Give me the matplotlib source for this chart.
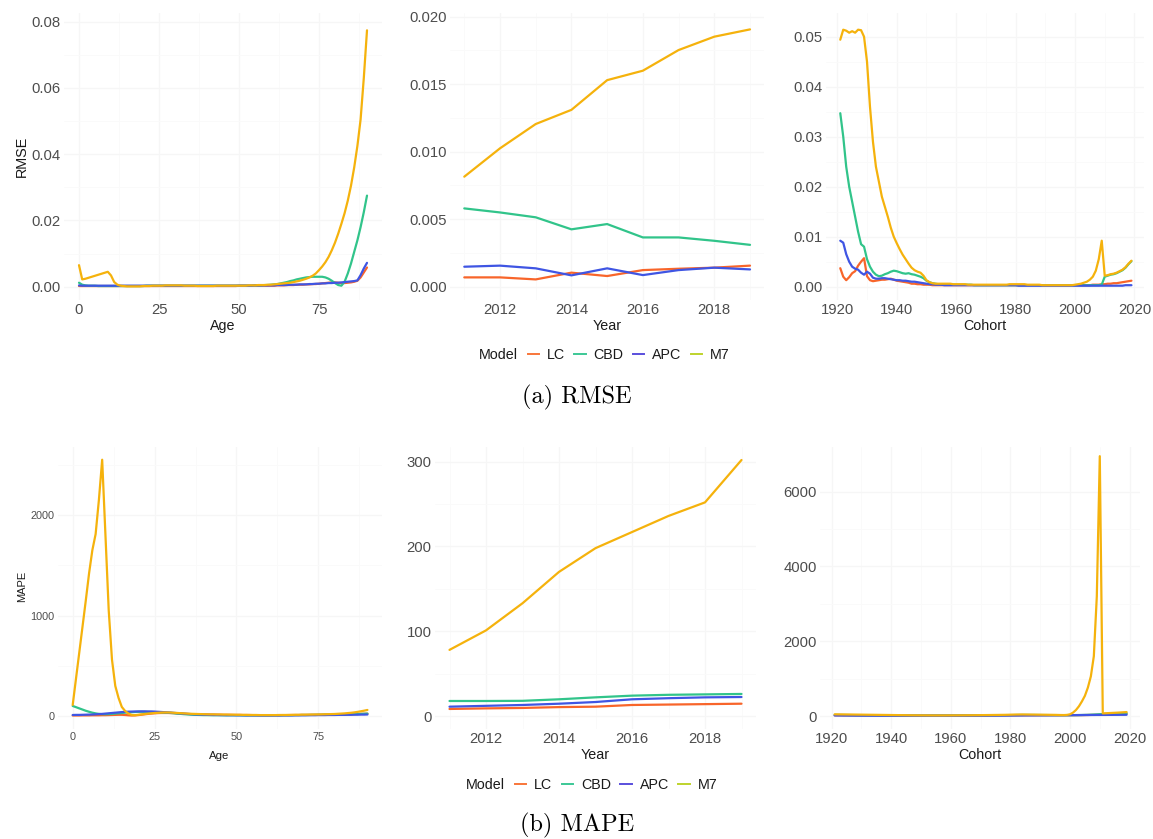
import matplotlib
matplotlib.use("Agg")
import matplotlib.pyplot as plt
from matplotlib.lines import Line2D
from matplotlib.ticker import FixedLocator

# ---------------------------------------------------------------- data
ages = list(range(0, 91))
years = list(range(2011, 2020))
cohorts = list(range(1921, 2020))
models = ["LC", "CBD", "APC", "M7"]

# RMSE by age
rmse_age_lc = [
    0.0002, 0.0002, 0.0002, 0.0002, 0.0002, 0.0002, 0.0002, 0.0002, 0.0002, 0.0002,
    0.0002, 0.0002, 0.0002, 0.0002, 0.0002, 0.0002, 0.0002, 0.0002, 0.0002, 0.0002,
    0.0002, 0.0002, 0.0002, 0.0002, 0.0002, 0.0002, 0.0002, 0.0002, 0.0002, 0.0002,
    0.0002, 0.0002, 0.0002, 0.0002, 0.0002, 0.0002, 0.0002, 0.0002, 0.0002, 0.0002,
    0.0002, 0.0002, 0.0002, 0.0002, 0.0002, 0.0002, 0.0002, 0.0002, 0.0002, 0.0002,
    0.0003, 0.0003, 0.0003, 0.0003, 0.0003, 0.0003, 0.0003, 0.0003, 0.0003, 0.0003,
    0.0003, 0.0003, 0.0004, 0.0004, 0.0004, 0.0005, 0.0005, 0.0005, 0.0006, 0.0006,
    0.0006, 0.0007, 0.0007, 0.0008, 0.0008, 0.0009, 0.0010, 0.0011, 0.0012, 0.0013,
    0.0013, 0.0012, 0.0011, 0.0011, 0.0012, 0.0013, 0.0015, 0.0018, 0.0028, 0.0043,
    0.0058]
rmse_age_cbd = [
    0.0012, 0.0006, 0.0004, 0.0003, 0.0003, 0.0003, 0.0002, 0.0002, 0.0002, 0.0002,
    0.0002, 0.0002, 0.0002, 0.0002, 0.0002, 0.0002, 0.0002, 0.0002, 0.0002, 0.0002,
    0.0002, 0.0003, 0.0003, 0.0003, 0.0003, 0.0003, 0.0003, 0.0003, 0.0003, 0.0003,
    0.0003, 0.0003, 0.0003, 0.0003, 0.0003, 0.0003, 0.0003, 0.0003, 0.0003, 0.0003,
    0.0003, 0.0003, 0.0003, 0.0003, 0.0003, 0.0003, 0.0003, 0.0003, 0.0003, 0.0003,
    0.0003, 0.0003, 0.0003, 0.0003, 0.0003, 0.0004, 0.0004, 0.0004, 0.0005, 0.0005,
    0.0006, 0.0007, 0.0008, 0.0010, 0.0012, 0.0014, 0.0017, 0.0019, 0.0022, 0.0024,
    0.0026, 0.0028, 0.0029, 0.0030, 0.0030, 0.0030, 0.0030, 0.0028, 0.0024, 0.0018,
    0.0011, 0.0005, 0.0003, 0.0015, 0.0040, 0.0070, 0.0105, 0.0140, 0.0180, 0.0225,
    0.0275]
rmse_age_apc = [
    0.0004, 0.0003, 0.0003, 0.0003, 0.0003, 0.0003, 0.0003, 0.0003, 0.0003, 0.0003,
    0.0003, 0.0003, 0.0003, 0.0003, 0.0003, 0.0003, 0.0003, 0.0003, 0.0003, 0.0003,
    0.0003, 0.0003, 0.0003, 0.0003, 0.0003, 0.0003, 0.0003, 0.0003, 0.0003, 0.0003,
    0.0003, 0.0003, 0.0003, 0.0003, 0.0003, 0.0003, 0.0003, 0.0003, 0.0003, 0.0003,
    0.0003, 0.0003, 0.0003, 0.0003, 0.0003, 0.0003, 0.0003, 0.0003, 0.0003, 0.0003,
    0.0003, 0.0003, 0.0003, 0.0003, 0.0003, 0.0004, 0.0004, 0.0004, 0.0004, 0.0004,
    0.0004, 0.0004, 0.0005, 0.0005, 0.0005, 0.0005, 0.0006, 0.0006, 0.0006, 0.0007,
    0.0007, 0.0007, 0.0008, 0.0008, 0.0009, 0.0009, 0.0010, 0.0010, 0.0011, 0.0011,
    0.0012, 0.0012, 0.0013, 0.0014, 0.0015, 0.0016, 0.0017, 0.0019, 0.0035, 0.0055,
    0.0072]
rmse_age_m7 = [
    0.0065, 0.0022, 0.0024, 0.0027, 0.0030, 0.0033, 0.0036, 0.0039, 0.0042, 0.0045,
    0.0034, 0.0014, 0.0006, 0.0003, 0.0002, 0.0001, 0.0001, 0.0001, 0.0001, 0.0001,
    0.0002, 0.0002, 0.0002, 0.0003, 0.0003, 0.0003, 0.0003, 0.0004, 0.0004, 0.0004,
    0.0004, 0.0004, 0.0004, 0.0003, 0.0003, 0.0003, 0.0003, 0.0002, 0.0002, 0.0002,
    0.0002, 0.0002, 0.0002, 0.0003, 0.0003, 0.0003, 0.0003, 0.0003, 0.0003, 0.0003,
    0.0003, 0.0003, 0.0003, 0.0004, 0.0004, 0.0004, 0.0005, 0.0005, 0.0005, 0.0006,
    0.0006, 0.0007, 0.0008, 0.0009, 0.0010, 0.0011, 0.0012, 0.0014, 0.0016, 0.0018,
    0.0021, 0.0024, 0.0028, 0.0033, 0.0040, 0.0050, 0.0061, 0.0074, 0.0090, 0.0110,
    0.0133, 0.0160, 0.0190, 0.0222, 0.0260, 0.0305, 0.0360, 0.0425, 0.0505, 0.0630,
    0.0774]

# RMSE by calendar year
rmse_year_lc = [0.00069, 0.00069, 0.00054, 0.00104, 0.00079, 0.00123, 0.00133, 0.00141, 0.00156]
rmse_year_cbd = [0.00580, 0.00550, 0.00514, 0.00425, 0.00464, 0.00365, 0.00365, 0.00340, 0.00310]
rmse_year_apc = [0.00148, 0.00156, 0.00136, 0.00084, 0.00136, 0.00086, 0.00123, 0.00141, 0.00128]
rmse_year_m7 = [0.00815, 0.01025, 0.01205, 0.01310, 0.01530, 0.01600, 0.01753, 0.01852, 0.01906]

# RMSE by birth cohort
rmse_coh_lc = [
    0.0037, 0.0020, 0.0013, 0.0019, 0.0027, 0.0031, 0.0042, 0.0050, 0.0057, 0.0021,
    0.0013, 0.0011, 0.0012, 0.0013, 0.0014, 0.0014, 0.0015, 0.0016, 0.0014, 0.0012,
    0.0011, 0.0010, 0.0009, 0.0008, 0.0006, 0.0006, 0.0005, 0.0005, 0.0004, 0.0004,
    0.0004, 0.0003, 0.0003, 0.0003, 0.0003, 0.0003, 0.0003, 0.0003, 0.0003, 0.0003,
    0.0003, 0.0003, 0.0003, 0.0003, 0.0003, 0.0003, 0.0003, 0.0003, 0.0003, 0.0003,
    0.0003, 0.0003, 0.0003, 0.0003, 0.0003, 0.0003, 0.0003, 0.0003, 0.0003, 0.0003,
    0.0003, 0.0003, 0.0003, 0.0003, 0.0003, 0.0003, 0.0003, 0.0003, 0.0003, 0.0003,
    0.0003, 0.0003, 0.0003, 0.0003, 0.0003, 0.0003, 0.0003, 0.0003, 0.0003, 0.0003,
    0.0003, 0.0003, 0.0003, 0.0003, 0.0003, 0.0004, 0.0004, 0.0004, 0.0005, 0.0005,
    0.0006, 0.0006, 0.0007, 0.0007, 0.0008, 0.0009, 0.0010, 0.0011, 0.0012]
rmse_coh_cbd = [
    0.0347, 0.0300, 0.0240, 0.0200, 0.0170, 0.0140, 0.0110, 0.0085, 0.0080, 0.0055,
    0.0040, 0.0030, 0.0024, 0.0021, 0.0022, 0.0025, 0.0027, 0.0030, 0.0032, 0.0031,
    0.0029, 0.0027, 0.0026, 0.0027, 0.0025, 0.0024, 0.0022, 0.0020, 0.0017, 0.0012,
    0.0009, 0.0007, 0.0006, 0.0005, 0.0005, 0.0004, 0.0004, 0.0004, 0.0004, 0.0004,
    0.0004, 0.0004, 0.0004, 0.0004, 0.0004, 0.0003, 0.0003, 0.0003, 0.0003, 0.0003,
    0.0003, 0.0003, 0.0003, 0.0003, 0.0003, 0.0003, 0.0003, 0.0003, 0.0003, 0.0003,
    0.0003, 0.0003, 0.0003, 0.0003, 0.0003, 0.0003, 0.0003, 0.0003, 0.0003, 0.0003,
    0.0003, 0.0003, 0.0003, 0.0003, 0.0003, 0.0003, 0.0003, 0.0003, 0.0003, 0.0003,
    0.0003, 0.0003, 0.0003, 0.0003, 0.0003, 0.0003, 0.0003, 0.0003, 0.0004, 0.0020,
    0.0022, 0.0024, 0.0025, 0.0027, 0.0030, 0.0033, 0.0038, 0.0045, 0.0051]
rmse_coh_apc = [
    0.0092, 0.0088, 0.0065, 0.0050, 0.0040, 0.0036, 0.0034, 0.0028, 0.0024, 0.0030,
    0.0026, 0.0018, 0.0016, 0.0016, 0.0017, 0.0017, 0.0016, 0.0015, 0.0014, 0.0013,
    0.0013, 0.0012, 0.0012, 0.0011, 0.0010, 0.0010, 0.0009, 0.0008, 0.0007, 0.0006,
    0.0005, 0.0005, 0.0004, 0.0004, 0.0004, 0.0003, 0.0003, 0.0003, 0.0003, 0.0003,
    0.0003, 0.0003, 0.0003, 0.0003, 0.0003, 0.0003, 0.0003, 0.0003, 0.0003, 0.0003,
    0.0003, 0.0003, 0.0003, 0.0003, 0.0003, 0.0003, 0.0003, 0.0003, 0.0003, 0.0003,
    0.0002, 0.0002, 0.0002, 0.0002, 0.0002, 0.0002, 0.0002, 0.0002, 0.0002, 0.0002,
    0.0002, 0.0002, 0.0002, 0.0002, 0.0002, 0.0002, 0.0002, 0.0002, 0.0002, 0.0002,
    0.0002, 0.0002, 0.0002, 0.0002, 0.0002, 0.0002, 0.0002, 0.0002, 0.0002, 0.0002,
    0.0002, 0.0002, 0.0002, 0.0002, 0.0002, 0.0002, 0.0003, 0.0003, 0.0003]
rmse_coh_m7 = [
    0.0494, 0.0514, 0.0512, 0.0508, 0.0511, 0.0508, 0.0514, 0.0513, 0.0500, 0.0450,
    0.0360, 0.0290, 0.0240, 0.0210, 0.0180, 0.0160, 0.0140, 0.0118, 0.0100, 0.0087,
    0.0075, 0.0064, 0.0055, 0.0046, 0.0038, 0.0033, 0.0030, 0.0028, 0.0022, 0.0013,
    0.0009, 0.0007, 0.0006, 0.0006, 0.0006, 0.0006, 0.0006, 0.0006, 0.0005, 0.0005,
    0.0005, 0.0005, 0.0005, 0.0004, 0.0004, 0.0004, 0.0004, 0.0004, 0.0004, 0.0004,
    0.0004, 0.0004, 0.0004, 0.0004, 0.0004, 0.0004, 0.0004, 0.0005, 0.0005, 0.0005,
    0.0005, 0.0005, 0.0005, 0.0004, 0.0004, 0.0004, 0.0004, 0.0004, 0.0003, 0.0003,
    0.0003, 0.0003, 0.0003, 0.0003, 0.0003, 0.0003, 0.0003, 0.0003, 0.0003, 0.0004,
    0.0005, 0.0006, 0.0008, 0.0010, 0.0014, 0.0020, 0.0032, 0.0055, 0.0092, 0.0022,
    0.0023, 0.0025, 0.0026, 0.0028, 0.0031, 0.0034, 0.0039, 0.0046, 0.0052]

# MAPE by age
mape_age_lc = [
    5, 5, 5, 6, 6, 6, 7, 7, 7, 8,
    8, 9, 10, 11, 12, 12, 10, 7, 5, 6,
    9, 13, 17, 21, 24, 27, 29, 30, 30, 30,
    29, 28, 26, 24, 22, 20, 19, 18, 17, 16,
    15, 15, 14, 14, 13, 13, 12, 12, 12, 11,
    11, 11, 10, 10, 10, 9, 9, 9, 8, 8,
    8, 8, 8, 8, 9, 9, 9, 10, 10, 10,
    11, 11, 11, 12, 12, 13, 13, 14, 14, 15,
    15, 16, 16, 17, 17, 18, 19, 20, 21, 22,
    23]
mape_age_cbd = [
    100, 88, 76, 64, 52, 42, 33, 26, 21, 18,
    18, 19, 21, 24, 27, 30, 33, 36, 38, 40,
    41, 42, 42, 41, 40, 39, 38, 36, 34, 32,
    30, 27, 24, 21, 18, 16, 14, 12, 11, 10,
    9, 9, 8, 8, 8, 8, 7, 7, 7, 7,
    7, 7, 6, 6, 6, 6, 6, 6, 6, 6,
    6, 6, 7, 7, 7, 8, 8, 8, 9, 9,
    10, 10, 10, 11, 11, 12, 12, 13, 13, 14,
    14, 15, 15, 16, 17, 18, 19, 20, 21, 22,
    24]
mape_age_apc = [
    10, 11, 11, 12, 13, 14, 15, 17, 19, 21,
    24, 27, 30, 33, 36, 39, 41, 43, 44, 45,
    46, 46, 46, 45, 45, 44, 42, 40, 38, 36,
    34, 31, 28, 26, 23, 21, 19, 17, 15, 14,
    13, 12, 11, 10, 10, 9, 9, 8, 8, 8,
    7, 7, 7, 6, 6, 6, 6, 5, 5, 5,
    5, 5, 5, 5, 6, 6, 6, 6, 7, 7,
    7, 7, 8, 8, 8, 9, 9, 9, 10, 10,
    10, 11, 11, 11, 12, 12, 13, 13, 14, 14,
    15]
mape_age_m7 = [
    110, 370, 630, 890, 1150, 1420, 1650, 1810, 2150, 2550,
    1800, 1050, 560, 300, 180, 90, 50, 25, 10, 8,
    12, 16, 20, 24, 27, 30, 32, 34, 35, 35,
    34, 32, 30, 28, 26, 24, 22, 21, 20, 19,
    18, 17, 16, 16, 15, 15, 14, 14, 13, 13,
    12, 12, 11, 11, 10, 10, 10, 9, 9, 9,
    9, 9, 9, 10, 10, 10, 11, 11, 12, 12,
    13, 13, 14, 14, 15, 15, 16, 17, 18, 19,
    20, 22, 24, 26, 29, 32, 36, 41, 47, 53,
    60]

# MAPE by calendar year
mape_year_lc = [8.3, 9.0, 9.5, 10.5, 11.0, 13.0, 13.5, 14.0, 14.5]
mape_year_cbd = [17.7, 17.7, 17.9, 19.7, 22.0, 24.0, 25.0, 25.5, 26.0]
mape_year_apc = [11.0, 12.0, 13.0, 14.5, 16.5, 19.7, 21.0, 22.0, 22.4]
mape_year_m7 = [78, 101, 133, 170, 198, 217, 236, 252, 302]

# MAPE by birth cohort
mape_coh_lc = [
    20, 19, 19, 18, 18, 17, 17, 16, 16, 15,
    15, 14, 14, 13, 13, 12, 12, 12, 11, 11,
    11, 10, 10, 10, 10, 10, 10, 10, 10, 10,
    10, 10, 10, 10, 10, 10, 10, 10, 10, 10,
    10, 10, 11, 11, 11, 12, 12, 12, 13, 13,
    13, 14, 14, 15, 15, 16, 16, 17, 17, 18,
    18, 19, 19, 20, 20, 20, 20, 20, 20, 20,
    20, 20, 20, 20, 20, 20, 20, 20, 20, 20,
    21, 22, 23, 24, 25, 27, 29, 31, 34, 37,
    40, 42, 44, 46, 48, 50, 52, 54, 56]
mape_coh_cbd = [
    30, 29, 28, 27, 26, 25, 24, 23, 22, 21,
    20, 20, 19, 19, 18, 18, 17, 17, 16, 16,
    15, 15, 14, 14, 14, 13, 13, 13, 12, 12,
    12, 12, 12, 12, 12, 12, 13, 13, 13, 13,
    14, 14, 14, 15, 15, 15, 16, 16, 17, 17,
    18, 18, 19, 19, 20, 21, 21, 22, 23, 24,
    25, 26, 27, 28, 28, 28, 27, 27, 26, 26,
    25, 25, 24, 24, 23, 23, 22, 22, 22, 22,
    23, 24, 25, 27, 29, 31, 34, 38, 42, 48,
    52, 55, 58, 61, 64, 67, 70, 73, 76]
mape_coh_apc = [
    15, 14, 14, 13, 13, 12, 12, 11, 11, 10,
    10, 10, 9, 9, 9, 9, 8, 8, 8, 8,
    8, 8, 8, 8, 8, 8, 8, 8, 8, 8,
    8, 8, 8, 8, 8, 8, 8, 8, 8, 8,
    8, 8, 8, 9, 9, 9, 9, 9, 10, 10,
    10, 10, 11, 11, 11, 12, 12, 12, 13, 13,
    14, 14, 15, 15, 16, 16, 17, 17, 18, 18,
    19, 19, 20, 20, 21, 21, 22, 22, 23, 23,
    24, 24, 25, 25, 26, 26, 27, 27, 28, 28,
    29, 29, 30, 30, 31, 31, 32, 32, 33]
mape_coh_m7 = [
    45, 44, 43, 42, 41, 40, 39, 38, 37, 36,
    35, 34, 33, 32, 31, 30, 29, 28, 27, 26,
    25, 24, 23, 22, 21, 20, 19, 18, 18, 17,
    17, 16, 16, 15, 15, 15, 15, 15, 16, 16,
    17, 17, 18, 18, 19, 20, 20, 21, 22, 23,
    24, 25, 26, 27, 28, 29, 30, 31, 33, 35,
    37, 39, 40, 41, 40, 39, 38, 37, 36, 35,
    34, 33, 32, 31, 30, 28, 26, 25, 30, 45,
    90, 160, 260, 390, 540, 760, 1060, 1600, 3200, 6950,
    70, 74, 78, 82, 86, 90, 95, 100, 105]

# ---------------------------------------------------------------- style
line_colors = {"LC": "#F8652A", "CBD": "#31C48A", "APC": "#3F55E3", "M7": "#F5B20C"}
key_colors = {"LC": "#F8763A", "CBD": "#3CC896", "APC": "#5A4FDD", "M7": "#BED32C"}

SANS = "Liberation Sans"
TICK_GREY = "#4D4D4D"
W, H, DPI = 1153, 839, 100

plt.rcParams["font.family"] = SANS

fig = plt.figure(figsize=(W / DPI, H / DPI), dpi=DPI)
fig.patch.set_facecolor("white")


def panel(box, xref, yref, xticks, xlabels, yticks, ylabels, tick_size, minor_x, minor_y):
    """box = (left, right, top, bottom) in pixels; refs map two values to pixels."""
    x0, x1, y0, y1 = box
    ax = fig.add_axes([x0 / W, 1 - y1 / H, (x1 - x0) / W, (y1 - y0) / H])
    (vx1, px1), (vx2, px2) = xref
    sx = (vx2 - vx1) / (px2 - px1)
    ax.set_xlim(vx1 + (x0 - px1) * sx, vx1 + (x1 - px1) * sx)
    (vy1, py1), (vy2, py2) = yref
    sy = (vy2 - vy1) / (py2 - py1)
    ax.set_ylim(vy1 + (y1 - py1) * sy, vy1 + (y0 - py1) * sy)
    ax.xaxis.set_major_locator(FixedLocator(xticks))
    ax.set_xticklabels(xlabels)
    ax.yaxis.set_major_locator(FixedLocator(yticks))
    ax.set_yticklabels(ylabels)
    ax.xaxis.set_minor_locator(FixedLocator(minor_x))
    ax.yaxis.set_minor_locator(FixedLocator(minor_y))
    for s in ax.spines.values():
        s.set_visible(False)
    ax.tick_params(which="both", length=0)
    ax.tick_params(axis="both", which="major", labelsize=tick_size,
                   labelcolor=TICK_GREY, pad=2.5)
    ax.grid(which="major", color="#F6F6F6", lw=0.9)
    ax.grid(which="minor", color="#FAFAFA", lw=0.6)
    ax.set_axisbelow(True)
    ax.set_facecolor("white")
    return ax


def draw(ax, x, series):
    for m in models:
        ax.plot(x, series[m], color=line_colors[m], lw=1.6,
                solid_joinstyle="round", solid_capstyle="round")


def legend_row(center_px, y_px):
    left = center_px - 128.5
    fig.text(left / W, 1 - y_px / H, "Model", fontsize=10.3, color="#1A1A1A",
             ha="left", va="center")
    handles = [Line2D([], [], color=key_colors[m], lw=1.4) for m in models]
    fig.legend(handles, models, loc="center left",
               bbox_to_anchor=((left + 49) / W, 1 - y_px / H),
               ncol=4, frameon=False, fontsize=10.3, handlelength=0.8,
               handletextpad=0.55, columnspacing=0.65, borderpad=0,
               borderaxespad=0, labelcolor="#1A1A1A")


def fig_label(x_px, y_px, s, size, rot=0, color="#1A1A1A"):
    fig.text(x_px / W, 1 - y_px / H, s, fontsize=size, rotation=rot,
             ha="center", va="center", color=color)


# ---------------------------------------------------------------- top row: RMSE
age_ticks = [0, 25, 50, 75]
yr_ticks = [2012, 2014, 2016, 2018]
coh_ticks = [1920, 1940, 1960, 1980, 2000, 2020]

ax = panel((64, 382, 13, 300), ((0, 79), (75, 319)), ((0, 286.7), (0.08, 21.7)),
           age_ticks, [str(t) for t in age_ticks],
           [0, 0.02, 0.04, 0.06, 0.08], ["0.00", "0.02", "0.04", "0.06", "0.08"], 10.7,
           [12.5, 37.5, 62.5, 87.5], [0.01, 0.03, 0.05, 0.07])
draw(ax, ages, {"LC": rmse_age_lc, "CBD": rmse_age_cbd, "APC": rmse_age_apc, "M7": rmse_age_m7})

ax = panel((450, 764, 13, 300), ((2012, 500), (2018, 714.3)), ((0, 286.7), (0.02, 16.7)),
           yr_ticks, [str(t) for t in yr_ticks],
           [0, 0.005, 0.01, 0.015, 0.02], ["0.000", "0.005", "0.010", "0.015", "0.020"], 10.7,
           [2011, 2013, 2015, 2017, 2019], [0.0025, 0.0075, 0.0125, 0.0175])
draw(ax, years, {"LC": rmse_year_lc, "CBD": rmse_year_cbd, "APC": rmse_year_apc, "M7": rmse_year_m7})

ax = panel((826, 1144, 13, 300), ((1920, 837.3), (2000, 1075)), ((0, 286.7), (0.05, 36.7)),
           coh_ticks, [str(t) for t in coh_ticks],
           [0, 0.01, 0.02, 0.03, 0.04, 0.05], ["0.00", "0.01", "0.02", "0.03", "0.04", "0.05"], 10.7,
           [1930, 1950, 1970, 1990, 2010], [0.005, 0.015, 0.025, 0.035, 0.045])
draw(ax, cohorts, {"LC": rmse_coh_lc, "CBD": rmse_coh_cbd, "APC": rmse_coh_apc, "M7": rmse_coh_m7})

fig_label(21.7, 156.7, "RMSE", 10.4, rot=90)
fig_label(223, 326, "Age", 10.3)
fig_label(607, 326, "Year", 10.3)
fig_label(985, 326, "Cohort", 10.3)
legend_row(607, 355)
fig.text(576.5 / W, 1 - 397 / H, "(a) RMSE", family="cmr10", fontsize=17.5,
         ha="center", va="center", color="black")

# ---------------------------------------------------------------- bottom row: MAPE
ax = panel((58, 382, 447, 729), ((0, 72.7), (75, 318.3)), ((0, 716), (2000, 515)),
           age_ticks, [str(t) for t in age_ticks],
           [0, 1000, 2000], ["0", "1000", "2000"], 7.8,
           [12.5, 37.5, 62.5, 87.5], [500, 1500, 2500])
draw(ax, ages, {"LC": mape_age_lc, "CBD": mape_age_cbd, "APC": mape_age_apc, "M7": mape_age_m7})

ax = panel((435, 756, 447, 729), ((2012, 486), (2018, 705)), ((0, 716), (300, 461.7)),
           yr_ticks, [str(t) for t in yr_ticks],
           [0, 100, 200, 300], ["0", "100", "200", "300"], 10.7,
           [2011, 2013, 2015, 2017, 2019], [50, 150, 250])
draw(ax, years, {"LC": mape_year_lc, "CBD": mape_year_cbd, "APC": mape_year_apc, "M7": mape_year_m7})

ax = panel((820, 1140, 447, 729), ((1920, 831.7), (2000, 1070)), ((0, 716), (6000, 491.7)),
           coh_ticks, [str(t) for t in coh_ticks],
           [0, 2000, 4000, 6000], ["0", "2000", "4000", "6000"], 10.7,
           [1930, 1950, 1970, 1990, 2010], [1000, 3000, 5000])
draw(ax, cohorts, {"LC": mape_coh_lc, "CBD": mape_coh_cbd, "APC": mape_coh_apc, "M7": mape_coh_m7})

fig_label(21.7, 586.7, "MAPE", 8.0, rot=90)
fig_label(219, 756, "Age", 8.2)
fig_label(595.5, 755, "Year", 10.3)
fig_label(980, 755, "Cohort", 10.3)
legend_row(594.5, 785)
fig.text(577.5 / W, 1 - 825 / H, "(b) MAPE", family="cmr10", fontsize=17.5,
         ha="center", va="center", color="black")

fig.savefig("out.png", dpi=DPI, facecolor="white")
